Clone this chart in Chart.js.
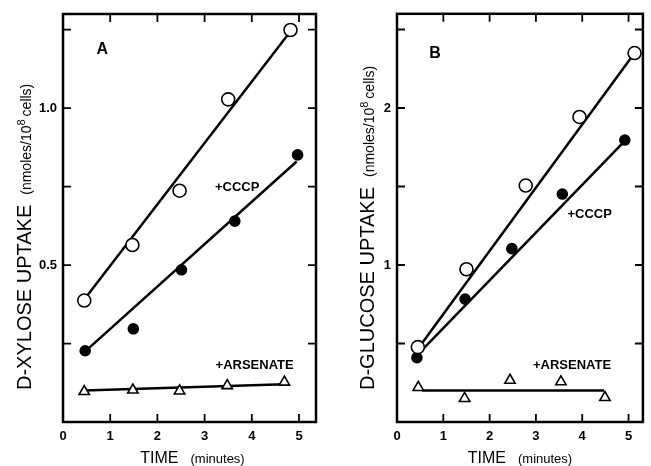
<!DOCTYPE html>
<html>
<head>
<meta charset="utf-8">
<script src="https://cdn.jsdelivr.net/npm/chart.js@4/dist/chart.umd.min.js"></script>
<style>
  body { margin: 0; background: #fff; }
  #wrap { position: relative; width: 651px; height: 466px; }
  .panel { position: absolute; top: 0; height: 466px; }
</style>
</head>
<body>
<div id="wrap">
  <div class="panel" style="left:0; width:330px;"><canvas id="chartA"></canvas></div>
  <div class="panel" style="left:330px; width:321px;"><canvas id="chartB"></canvas></div>
</div>
<script>
// panel A : D-xylose
var timeXyloseControl = [0.45, 1.47, 2.47, 3.50, 4.82];
var xyloseControl = [0.387, 0.564, 0.737, 1.028, 1.249];
var timeXyloseCccp = [0.47, 1.49, 2.51, 3.64, 4.97];
var xyloseCccp = [0.227, 0.297, 0.485, 0.640, 0.851];
var timeXyloseArsenate = [0.45, 1.48, 2.47, 3.48, 4.69];
var xyloseArsenate = [0.097, 0.102, 0.099, 0.116, 0.127];

var fitXyloseControlX = [0.45, 4.82];
var fitXyloseControlY = [0.39, 1.245];
var fitXyloseCccpX = [0.47, 4.95];
var fitXyloseCccpY = [0.225, 0.83];
var fitXyloseArsenateX = [0.45, 4.69];
var fitXyloseArsenateY = [0.10, 0.12];

// panel B : D-glucose
var timeGlucoseControl = [0.45, 1.50, 2.78, 3.94, 5.13];
var glucoseControl = [0.477, 0.973, 1.506, 1.943, 2.35];
var timeGlucoseCccp = [0.43, 1.47, 2.48, 3.57, 4.92];
var glucoseCccp = [0.41, 0.783, 1.104, 1.452, 1.796];
var timeGlucoseArsenate = [0.46, 1.46, 2.44, 3.54, 4.49];
var glucoseArsenate = [0.22, 0.15, 0.266, 0.256, 0.156];

var fitGlucoseControlX = [0.46, 5.13];
var fitGlucoseControlY = [0.47, 2.35];
var fitGlucoseCccpX = [0.45, 4.92];
var fitGlucoseCccpY = [0.43, 1.79];
var fitGlucoseArsenateX = [0.46, 0.56, 4.47];
var fitGlucoseArsenateY = [0.22, 0.20, 0.20];

// axes
var timeTicks = [0, 1, 2, 3, 4, 5];
var xyloseTicks = [0.25, 0.5, 0.75, 1.0, 1.25];
var xyloseTickLabels = ['', '0.5', '', '1.0', ''];
var glucoseTicks = [0.5, 1, 1.5, 2, 2.5];
var glucoseTickLabels = ['', '1', '', '2', ''];

function pts(xs, ys) {
	return xs.map(function (x, i) { return {x: x, y: ys[i]}; });
}

function markers(xs, ys, style, fill, r) {
	return {
		data: pts(xs, ys),
		showLine: false,
		pointStyle: style,
		pointRadius: r,
		pointBackgroundColor: fill,
		pointBorderColor: '#000',
		pointBorderWidth: 1.6,
		order: 1
	};
}

function fitLine(xs, ys) {
	return {
		data: pts(xs, ys),
		showLine: true,
		borderColor: '#000',
		borderWidth: 2.5,
		pointRadius: 0,
		fill: false,
		order: 2
	};
}

// frame, inward ticks, texts
var panelDecor = {
	id: 'panelDecor',
	afterDraw: function (chart, args, opts) {
		var ctx = chart.ctx;
		var a = chart.chartArea;
		var xs = chart.scales.x, ys = chart.scales.y;
		ctx.save();
		ctx.strokeStyle = '#000';
		ctx.lineWidth = 2.5;
		ctx.strokeRect(a.left, a.top, a.right - a.left, a.bottom - a.top);
		ctx.lineWidth = 1.8;
		ctx.beginPath();
		timeTicks.forEach(function (v) {
			if (v === 0) return;
			var px = xs.getPixelForValue(v);
			ctx.moveTo(px, a.bottom); ctx.lineTo(px, a.bottom - 8);
			ctx.moveTo(px, a.top); ctx.lineTo(px, a.top + 8);
		});
		opts.yTicks.forEach(function (v) {
			var py = ys.getPixelForValue(v);
			ctx.moveTo(a.left, py); ctx.lineTo(a.left + 8, py);
			ctx.moveTo(a.right, py); ctx.lineTo(a.right - 8, py);
		});
		ctx.stroke();

		ctx.fillStyle = '#000';
		ctx.textAlign = 'center';
		ctx.textBaseline = 'middle';
		opts.labels.forEach(function (l) {
			ctx.font = l.font;
			ctx.fillText(l.text, xs.getPixelForValue(l.x), ys.getPixelForValue(l.y));
		});

		// x title
		ctx.textBaseline = 'alphabetic';
		ctx.textAlign = 'left';
		var big = '16px "Liberation Sans", Arial, sans-serif';
		var small = '13px "Liberation Sans", Arial, sans-serif';
		ctx.font = big;
		var w1 = ctx.measureText('TIME').width;
		ctx.font = small;
		var w2 = ctx.measureText('(minutes)').width;
		var gap = 12;
		var x0 = (a.left + a.right) / 2 + opts.xTitleShift - (w1 + gap + w2) / 2;
		ctx.font = big;
		ctx.fillText('TIME', x0, 463);
		ctx.font = small;
		ctx.fillText('(minutes)', x0 + w1 + gap, 463);

		// y title, rotated
		ctx.translate(opts.yTitleX, 390);
		ctx.rotate(-Math.PI / 2);
		ctx.font = '20px "Liberation Sans", Arial, sans-serif';
		ctx.fillText(opts.yTitle, 0, 0);
		var p = ctx.measureText(opts.yTitle).width + 10;
		ctx.font = '14px "Liberation Sans", Arial, sans-serif';
		ctx.fillText('(nmoles/10', p, 0);
		p += ctx.measureText('(nmoles/10').width;
		ctx.font = '11px "Liberation Sans", Arial, sans-serif';
		ctx.fillText('8', p, -6);
		p += ctx.measureText('8').width + 3;
		ctx.font = '14px "Liberation Sans", Arial, sans-serif';
		ctx.fillText('cells)', p, 0);
		ctx.restore();
	}
};

function makeChart(id, datasets, xMax, yMax, yTicks, yLabels, yWidth, pad, decor) {
	var tickFont = {family: '"Liberation Sans", Arial, sans-serif', size: 13, weight: 'bold'};
	return new Chart(document.getElementById(id), {
		type: 'scatter',
		data: {datasets: datasets},
		options: {
			responsive: true,
			maintainAspectRatio: false,
			animation: false,
			layout: {padding: pad},
			plugins: {legend: {display: false}, tooltip: {enabled: false}, panelDecor: decor},
			scales: {
				x: {
					type: 'linear', min: 0, max: xMax,
					grid: {display: false, drawTicks: false},
					border: {display: false},
					afterBuildTicks: function (s) { s.ticks = timeTicks.map(function (v) { return {value: v}; }); },
					afterFit: function (s) { s.height = 44; },
					ticks: {color: '#000', font: tickFont, padding: 7, maxRotation: 0,
						callback: function (v) { return String(v); }}
				},
				y: {
					type: 'linear', min: 0, max: yMax,
					grid: {display: false, drawTicks: false},
					border: {display: false},
					afterBuildTicks: function (s) { s.ticks = yTicks.map(function (v) { return {value: v}; }); },
					afterFit: function (s) { s.width = yWidth; },
					ticks: {color: '#000', font: tickFont, padding: 6,
						callback: function (v) { var i = yTicks.indexOf(v); return i < 0 ? '' : yLabels[i]; }}
				}
			}
		},
		plugins: [panelDecor]
	});
}

var labelFont = 'bold 13px "Liberation Sans", Arial, sans-serif';
var letterFont = 'bold 16px "Liberation Sans", Arial, sans-serif';

var chartA = makeChart('chartA', [
	markers(timeXyloseControl, xyloseControl, 'circle', '#fff', 6.5),
	markers(timeXyloseCccp, xyloseCccp, 'circle', '#000', 5),
	markers(timeXyloseArsenate, xyloseArsenate, 'triangle', '#fff', 6),
	fitLine(fitXyloseControlX, fitXyloseControlY),
	fitLine(fitXyloseCccpX, fitXyloseCccpY),
	fitLine(fitXyloseArsenateX, fitXyloseArsenateY)
], 5.36, 1.3, xyloseTicks, xyloseTickLabels, 63, {top: 14, right: 14, left: 0, bottom: 0}, {
	yTicks: xyloseTicks,
	yTitle: 'D-XYLOSE UPTAKE',
	yTitleX: 31,
	xTitleShift: 3,
	labels: [
		{text: 'A', x: 0.83, y: 1.187, font: letterFont},
		{text: '+CCCP', x: 3.69, y: 0.747, font: labelFont},
		{text: '+ARSENATE', x: 4.06, y: 0.18, font: labelFont}
	]
});

var chartB = makeChart('chartB', [
	markers(timeGlucoseControl, glucoseControl, 'circle', '#fff', 6.5),
	markers(timeGlucoseCccp, glucoseCccp, 'circle', '#000', 5),
	markers(timeGlucoseArsenate, glucoseArsenate, 'triangle', '#fff', 6),
	fitLine(fitGlucoseControlX, fitGlucoseControlY),
	fitLine(fitGlucoseCccpX, fitGlucoseCccpY),
	fitLine(fitGlucoseArsenateX, fitGlucoseArsenateY)
], 5.31, 2.6, glucoseTicks, glucoseTickLabels, 67, {top: 13, right: 3, left: 0, bottom: 0}, {
	yTicks: glucoseTicks,
	yTitle: 'D-GLUCOSE UPTAKE',
	yTitleX: 44,
	xTitleShift: 0,
	labels: [
		{text: 'B', x: 0.82, y: 2.346, font: letterFont},
		{text: '+CCCP', x: 4.16, y: 1.32, font: labelFont},
		{text: '+ARSENATE', x: 3.78, y: 0.36, font: labelFont}
	]
});
</script>
</body>
</html>
